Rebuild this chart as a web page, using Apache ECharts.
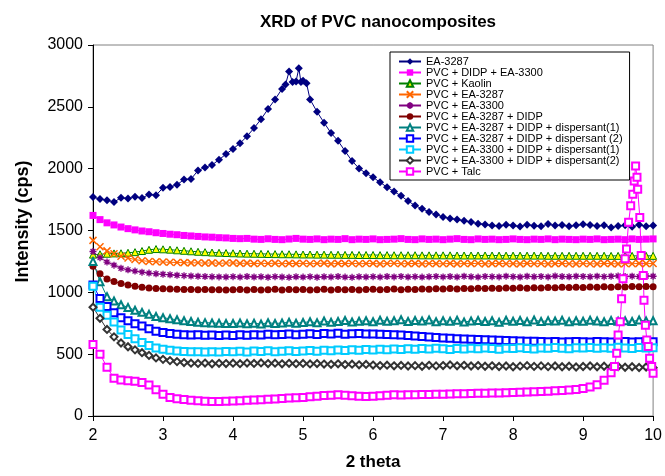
<!DOCTYPE html>
<html>
<head>
<meta charset="utf-8">
<script src="https://cdn.jsdelivr.net/npm/echarts@6/dist/echarts.min.js"></script>
<style>
  html, body { margin: 0; padding: 0; background: #fff; }
  #xrd { width: 665px; height: 476px; }
</style>
</head>
<body>
<div id="xrd"></div>
<script>
// 2 theta steps shared by most of the scans
var theta = [2.0,2.1,2.2,2.3,2.4,2.5,2.6,2.7,2.8,2.9,
  3.0,3.1,3.2,3.3,3.4,3.5,3.6,3.7,3.8,3.9,
  4.0,4.1,4.2,4.3,4.4,4.5,4.6,4.7,4.8,4.9,
  5.0,5.1,5.2,5.3,5.4,5.5,5.6,5.7,5.8,5.9,
  6.0,6.1,6.2,6.3,6.4,6.5,6.6,6.7,6.8,6.9,
  7.0,7.1,7.2,7.3,7.4,7.5,7.6,7.7,7.8,7.9,
  8.0,8.1,8.2,8.3,8.4,8.5,8.6,8.7,8.8,8.9,
  9.0,9.1,9.2,9.3,9.4,9.5,9.6,9.7,9.8,9.9,
  10.0];

// EA-3287 gets a few extra steps across its broad peak top
var eaTheta = theta.slice(0, 28).concat([4.75,4.80,4.85,4.90,4.94,4.97,5.00,5.05]).concat(theta.slice(31));

// talc has a sharp peak near 9.75, so it gets finer steps there
var talcTheta = theta.slice(0, 75).concat([9.45,9.48,9.50,9.53,9.55,9.57,9.60,9.62,9.65,9.68,
  9.71,9.73,9.75,9.77,9.78,9.81,9.83,9.86,9.87,9.89,9.91,9.93,9.95,9.98,10.0]);

var xTicks = [2, 3, 4, 5, 6, 7, 8, 9, 10];
var yTicks = [0, 500, 1000, 1500, 2000, 2500, 3000];

var ea3287 = [1770,1755,1745,1730,1765,1758,1772,1762,1792,1785,
  1845,1852,1870,1912,1916,1985,2010,2030,2072,2118,
  2160,2205,2262,2328,2400,2482,2560,2645,
  2680,2785,2700,2705,2812,2700,2710,2690,
  2560,2460,2372,2288,2225,2142,2062,2002,1962,
  1930,1890,1850,1815,1780,1738,1702,1676,1650,1630,
  1610,1598,1588,1578,1568,1555,1548,1540,1536,1546,
  1540,1532,1546,1538,1534,1552,1540,1544,1534,1542,
  1550,1544,1536,1542,1524,1536,1542,1530,1546,1534,
  1540];

var didpEa3300 = [1622,1588,1562,1545,1528,1515,1505,1496,1490,1482,
  1476,1470,1466,1460,1456,1452,1448,1446,1442,1440,
  1436,1434,1436,1430,1428,1433,1428,1426,1431,1436,
  1430,1428,1432,1426,1430,1428,1434,1426,1430,1428,
  1432,1426,1428,1430,1434,1428,1426,1432,1428,1430,
  1426,1430,1434,1428,1426,1432,1428,1430,1426,1428,
  1432,1428,1426,1430,1428,1432,1426,1430,1428,1426,
  1430,1428,1432,1426,1428,1430,1426,1432,1428,1430,
  1432];

var kaolin = [1305,1308,1312,1315,1316,1320,1325,1334,1344,1350,
  1348,1345,1340,1336,1332,1328,1325,1322,1320,1318,
  1316,1314,1313,1312,1311,1310,1309,1308,1308,1307,
  1306,1306,1305,1305,1304,1304,1303,1303,1302,1302,
  1302,1301,1301,1300,1300,1300,1300,1299,1299,1299,
  1299,1299,1298,1298,1298,1298,1298,1298,1297,1297,
  1297,1297,1297,1297,1297,1296,1296,1296,1296,1296,
  1296,1296,1296,1296,1295,1295,1295,1295,1295,1295,
  1295];

var pvcEa3287 = [1420,1368,1335,1312,1292,1278,1265,1256,1250,1247,
  1245,1243,1241,1240,1238,1239,1236,1238,1235,1237,
  1238,1234,1236,1232,1235,1233,1236,1231,1234,1232,
  1235,1231,1233,1236,1230,1234,1232,1235,1231,1233,
  1234,1230,1233,1235,1231,1232,1234,1230,1233,1232,
  1231,1234,1230,1233,1232,1235,1230,1232,1234,1231,
  1232,1230,1234,1231,1233,1230,1232,1234,1231,1230,
  1233,1231,1230,1234,1232,1230,1233,1231,1234,1232,
  1233];

var pvcEa3300 = [1330,1280,1245,1220,1195,1182,1172,1163,1156,1150,
  1146,1142,1138,1135,1132,1130,1128,1126,1125,1124,
  1127,1123,1128,1124,1126,1122,1127,1124,1121,1126,
  1123,1127,1122,1126,1124,1128,1123,1121,1126,1124,
  1127,1123,1128,1125,1129,1124,1127,1123,1126,1129,
  1125,1128,1124,1130,1126,1123,1129,1127,1125,1131,
  1127,1124,1130,1126,1129,1125,1132,1128,1126,1130,
  1129,1126,1131,1127,1130,1133,1128,1131,1127,1132,
  1130];

var ea3287Didp = [1210,1150,1108,1088,1072,1060,1050,1042,1036,1031,
  1028,1026,1024,1023,1022,1021,1022,1020,1021,1019,
  1020,1023,1019,1022,1018,1021,1024,1019,1022,1020,
  1023,1019,1021,1024,1018,1022,1020,1023,1019,1022,
  1024,1020,1023,1026,1021,1025,1023,1027,1024,1028,
  1026,1030,1027,1031,1029,1033,1030,1034,1032,1035,
  1033,1037,1034,1038,1036,1040,1037,1041,1039,1042,
  1040,1043,1041,1045,1042,1046,1044,1047,1045,1048,
  1046];

var ea3287Disp1 = [1250,1085,965,930,900,878,855,838,822,805,
  795,786,778,770,764,758,755,752,750,748,
  748,752,746,750,744,754,748,752,758,750,
  756,762,754,768,758,764,772,760,766,770,
  762,774,766,770,778,764,772,768,776,762,
  770,766,774,760,768,772,764,770,758,774,
  766,772,762,776,764,770,768,774,762,770,
  766,774,768,762,772,766,770,764,776,768,
  770];

var ea3287Disp2 = [1060,950,885,835,795,770,745,728,705,685,
  675,668,662,658,654,656,652,655,650,654,
  650,656,652,658,654,662,656,660,664,658,
  662,666,660,668,664,670,662,666,668,664,
  664,662,660,656,654,650,646,642,638,634,
  630,628,624,622,620,618,616,614,612,610,
  608,606,604,604,602,600,602,598,600,602,
  600,598,602,600,598,600,602,598,600,602,
  600];

var ea3300Disp1 = [1050,880,815,760,695,660,625,595,570,550,
  540,532,526,522,520,519,518,520,517,522,
  519,523,518,525,521,527,520,524,528,522,
  526,530,524,532,527,534,529,536,531,538,
  534,540,536,542,538,544,540,546,541,548,
  544,538,546,541,548,543,550,545,540,548,
  545,551,546,542,550,547,553,548,544,552,
  549,554,547,552,548,555,550,546,553,549,
  552];

var ea3300Disp2 = [880,790,700,640,590,560,535,512,490,470,
  458,448,440,432,427,425,428,422,426,424,
  427,423,428,425,429,424,427,422,426,423,
  425,421,424,420,418,422,416,419,414,417,
  412,408,411,406,409,404,407,402,410,405,
  408,413,406,410,404,408,402,406,400,404,
  398,403,407,401,405,399,404,398,402,396,
  400,404,398,402,396,400,394,398,392,396,
  390];

var talc = [578,500,395,305,292,286,280,270,250,212,
  175,150,140,133,128,124,120,118,117,119,
  121,124,127,130,132,135,138,142,145,148,
  150,155,160,165,168,171,168,164,160,158,
  160,164,168,171,170,172,171,174,173,176,
  176,178,180,179,182,184,183,186,185,188,
  190,192,195,197,198,200,204,207,210,214,
  222,235,252,290,350,
  400,507,654,762,949,1110,1271,1351,1566,1700,
  1794,1901,2021,1930,1834,1606,1297,1137,936,734,
  614,561,466,400,346];

var FONT = 'Arial, "Liberation Sans", sans-serif';
var crossPath = 'path://M0,0L10,10M10,0L0,10';
var starPath = 'path://M5,0V10M0,5H10M1.5,1.5L8.5,8.5M8.5,1.5L1.5,8.5';

function pairs(xs, ys) {
  return xs.map(function (x, i) { return [x, ys[i]]; });
}

function scan(name, xs, ys, color, symbol, size, extra) {
  var s = {
    name: name,
    type: 'line',
    data: pairs(xs, ys),
    symbol: symbol,
    symbolSize: size,
    showAllSymbol: true,
    lineStyle: { color: color, width: 1 },
    itemStyle: { color: color },
    emphasis: { disabled: true }
  };
  if (extra) {
    s.itemStyle = extra;
  }
  return s;
}

var chart = echarts.init(document.getElementById('xrd'));
chart.setOption({
  animation: false,
  title: {
    text: 'XRD of PVC nanocomposites',
    left: 373,
    top: 9,
    textAlign: 'center',
    textStyle: { fontFamily: FONT, fontSize: 17, fontWeight: 'bold', color: '#000' }
  },
  grid: {
    left: 93, right: 11, top: 45, bottom: 58,
    show: true, borderColor: '#808080', borderWidth: 1
  },
  legend: {
    orient: 'vertical',
    left: 390,
    top: 52,
    padding: [4, 7, 3, 8],
    itemWidth: 22,
    itemHeight: 8,
    itemGap: 0,
    borderColor: '#000',
    borderWidth: 1,
    backgroundColor: '#fff',
    textStyle: { fontFamily: FONT, fontSize: 11, color: '#000', lineHeight: 10.4 }
  },
  xAxis: {
    type: 'value',
    min: 2, max: 10, interval: 1,
    name: '2 theta',
    nameLocation: 'middle',
    nameGap: 38,
    nameTextStyle: { fontFamily: FONT, fontSize: 17, fontWeight: 'bold', color: '#000' },
    axisLine: { lineStyle: { color: '#000', width: 1 } },
    axisTick: { length: 5, lineStyle: { color: '#000' } },
    axisLabel: {
      fontFamily: FONT, fontSize: 16, color: '#000', margin: 12,
      formatter: function (v) { return xTicks.indexOf(v) >= 0 ? String(v) : ''; }
    },
    splitLine: { show: false }
  },
  yAxis: {
    type: 'value',
    min: 0, max: 3000, interval: 500,
    name: 'Intensity (cps)',
    nameLocation: 'middle',
    nameGap: 61,
    nameTextStyle: { fontFamily: FONT, fontSize: 18, fontWeight: 'bold', color: '#000', padding: [0, 0, 0, 18] },
    axisLine: { show: true, lineStyle: { color: '#000', width: 1 } },
    axisTick: { show: true, length: 5, lineStyle: { color: '#000' } },
    axisLabel: {
      fontFamily: FONT, fontSize: 16, color: '#000', margin: 10,
      formatter: function (v) { return yTicks.indexOf(v) >= 0 ? String(v) : ''; }
    },
    splitLine: { show: false }
  },
  series: [
    scan('EA-3287', eaTheta, ea3287, '#000080', 'diamond', 8),
    scan('PVC + DIDP + EA-3300', theta, didpEa3300, '#FF00FF', 'rect', 7),
    scan('PVC + Kaolin', theta, kaolin, '#008000', 'triangle', 7,
      { color: '#FFFF00', borderColor: '#008000', borderWidth: 1 }),
    scan('PVC + EA-3287', theta, pvcEa3287, '#FF6600', crossPath, 7,
      { color: '#FF6600', borderColor: '#FF6600', borderWidth: 1.5 }),
    scan('PVC + EA-3300', theta, pvcEa3300, '#800080', starPath, 7,
      { color: '#800080', borderColor: '#800080', borderWidth: 1.3 }),
    scan('PVC + EA-3287 + DIDP', theta, ea3287Didp, '#800000', 'circle', 7),
    scan('PVC + EA-3287 + DIDP + dispersant(1)', theta, ea3287Disp1, '#008080', 'emptyTriangle', 7),
    scan('PVC + EA-3287 + DIDP + dispersant (2)', theta, ea3287Disp2, '#0000FF', 'emptyRect', 7),
    scan('PVC + EA-3300 + DIDP + dispersant(1)', theta, ea3300Disp1, '#00CCFF', 'emptyRect', 7),
    scan('PVC + EA-3300 + DIDP + dispersant(2)', theta, ea3300Disp2, '#333333', 'emptyDiamond', 7),
    scan('PVC + Talc', talcTheta, talc, '#FF00FF', 'emptyRect', 7)
  ]
});
</script>
</body>
</html>
